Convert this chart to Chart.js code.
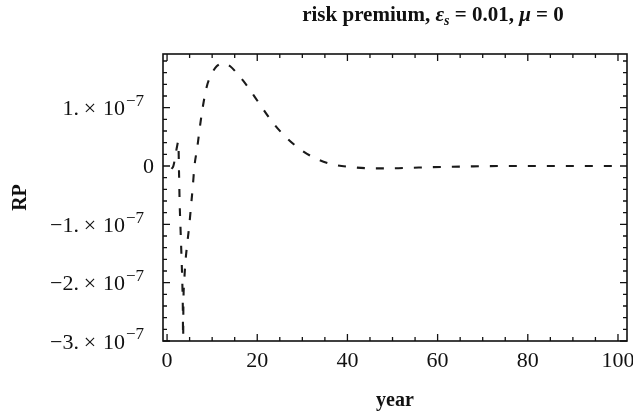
<!DOCTYPE html>
<html>
<head>
<meta charset="utf-8">
<script src="https://cdn.jsdelivr.net/npm/chart.js@4.4.1/dist/chart.umd.min.js"></script>
<style>
  html, body { margin: 0; padding: 0; background: #fff; }
  #wrap { width: 633px; height: 413px; position: relative; }
</style>
</head>
<body>
<div id="wrap"><canvas id="chart"></canvas></div>
<script>
// values, RP in units of 1e-7
const years = [1.0, 1.4, 1.8, 2.2, 2.5, 2.65, 2.8, 3.0, 3.2, 3.4, 3.5, 3.56, 3.62, 3.8, 4.0, 4.4, 4.9, 5.3, 5.7, 6.05,
  6.7, 7.3, 7.9, 8.8, 9.9, 11.0, 12.5, 14.0, 15.8, 17.5, 20.2, 22.8, 25.4, 28.8, 32.4, 36.5, 41, 45.4, 49.8, 54.3,
  58.7, 65, 75, 85, 100];
const rp = [-0.05, 0.0, 0.15, 0.33, 0.42, -0.1, -0.65, -1.1, -1.55, -2.05, -2.45, -3.1, -2.4, -2.0, -1.72, -1.38, -1.04, -0.7, -0.36, -0.02,
  0.32, 0.68, 1.0, 1.36, 1.58, 1.71, 1.76, 1.71, 1.56, 1.40, 1.10, 0.81, 0.57, 0.33, 0.15, 0.03, -0.02, -0.04, -0.04, -0.03,
  -0.02, -0.01, 0, 0, 0];
const RP_UNIT = 1e-7;

const xTicks = [0, 20, 40, 60, 80, 100];
const yTicks = [-3, -2, -1, 0, 1];
const yTickText = ["\u22123.", "\u22122.", "\u22121.", "0", "1."];

const serif = '"Liberation Serif", "Times New Roman", serif';

// frame, inward ticks, y labels with exponent, title
const framePlugin = {
  id: "frame",
  afterDraw(chart) {
    const { ctx, chartArea: a, scales: { x, y } } = chart;
    ctx.save();
    ctx.strokeStyle = "#111";
    ctx.lineWidth = 1.6;
    ctx.strokeRect(a.left, a.top, a.right - a.left, a.bottom - a.top);

    ctx.lineWidth = 1.3;
    ctx.beginPath();
    for (let v = 0; v <= 100; v += 5) {
      const px = x.getPixelForValue(v);
      const len = v % 20 === 0 ? 7 : 4;
      ctx.moveTo(px, a.bottom); ctx.lineTo(px, a.bottom - len);
      ctx.moveTo(px, a.top); ctx.lineTo(px, a.top + len);
    }
    for (let k = -15; k <= 9; k++) {
      const py = y.getPixelForValue(k * 0.2 * RP_UNIT);
      const len = k % 5 === 0 ? 7 : 4;
      ctx.moveTo(a.left, py); ctx.lineTo(a.left + len, py);
      ctx.moveTo(a.right, py); ctx.lineTo(a.right - len, py);
    }
    ctx.stroke();

    // y tick labels: mantissa, times sign, 10 and exponent
    ctx.fillStyle = "#111";
    ctx.textBaseline = "middle";
    const mainFont = "22px " + serif;
    const supFont = "17px " + serif;
    yTicks.forEach((t, i) => {
      const py = y.getPixelForValue(t * RP_UNIT);
      ctx.font = mainFont;
      ctx.textAlign = "right";
      if (t === 0) {
        ctx.fillText("0", 154, py + 1);
        return;
      }
      ctx.fillText(yTickText[i], 79, py + 2);
      ctx.fillText("10", 125, py + 2);
      ctx.textAlign = "center";
      ctx.fillText("\u00d7", 90, py + 2);
      ctx.font = supFont;
      ctx.textAlign = "left";
      ctx.fillText("\u22127", 126, py - 6);
    });

    // title
    const parts = [
      { t: "risk premium, ", f: "bold 21px " + serif, dy: 0 },
      { t: "\u03b5", f: "italic bold 21px " + serif, dy: 0 },
      { t: "s", f: "italic bold 14px " + serif, dy: 4 },
      { t: " = 0.01, ", f: "bold 21px " + serif, dy: 0 },
      { t: "\u03bc", f: "italic bold 21px " + serif, dy: 0 },
      { t: " = 0", f: "bold 21px " + serif, dy: 0 }
    ];
    let total = 0;
    parts.forEach(p => { ctx.font = p.f; p.w = ctx.measureText(p.t).width; total += p.w; });
    let cx = 433 - total / 2;
    ctx.textAlign = "left";
    ctx.textBaseline = "alphabetic";
    parts.forEach(p => { ctx.font = p.f; ctx.fillText(p.t, cx, 21 + p.dy); cx += p.w; });
    ctx.restore();
  }
};

new Chart(document.getElementById("chart"), {
  type: "line",
  data: {
    datasets: [{
      data: years.map((yr, i) => ({ x: yr, y: rp[i] * RP_UNIT })),
      borderColor: "#1a1a1a",
      borderWidth: 2.1,
      borderDash: [8, 11],
      pointRadius: 0,
      fill: false,
      cubicInterpolationMode: "monotone",
      clip: 0
    }]
  },
  options: {
    responsive: true,
    maintainAspectRatio: false,
    animation: false,
    layout: { padding: { top: 54, right: 6, left: 0, bottom: 0 } },
    plugins: { legend: { display: false }, tooltip: { enabled: false } },
    scales: {
      x: {
        type: "linear",
        min: -0.9,
        max: 102,
        afterBuildTicks: s => { s.ticks = xTicks.map(v => ({ value: v })); },
        afterFit: s => { s.height = 72; s.paddingLeft = 0; s.paddingRight = 0; },
        grid: { display: false, drawTicks: false },
        border: { display: false },
        ticks: { color: "#111", font: { family: serif, size: 22 }, padding: 7, maxRotation: 0 },
        title: { display: true, text: "year", color: "#111", font: { family: serif, size: 20, weight: "bold" }, padding: { top: 0, bottom: 0 } }
      },
      y: {
        type: "linear",
        min: -3 * RP_UNIT,
        max: 1.92 * RP_UNIT,
        afterBuildTicks: s => { s.ticks = yTicks.map(v => ({ value: v * RP_UNIT })); },
        afterFit: s => { s.width = 163; s.paddingTop = 0; s.paddingBottom = 0; },
        grid: { display: false, drawTicks: false },
        border: { display: false },
        ticks: { display: false },
        title: { display: true, text: "RP", color: "#111", font: { family: serif, size: 20, weight: "bold" }, padding: { top: 9, bottom: 0 } }
      }
    }
  },
  plugins: [framePlugin]
});
</script>
</body>
</html>
